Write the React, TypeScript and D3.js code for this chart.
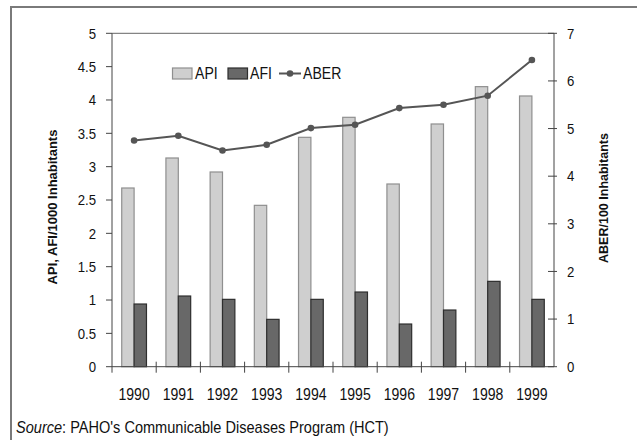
import React from "react";
import * as d3 from "d3";

const years = ["1990", "1991", "1992", "1993", "1994", "1995", "1996", "1997", "1998", "1999"];
const apiValues = [2.68, 3.13, 2.92, 2.42, 3.44, 3.74, 2.74, 3.64, 4.2, 4.06];
const afiValues = [0.94, 1.06, 1.01, 0.71, 1.01, 1.12, 0.64, 0.85, 1.28, 1.01];
const aberValues = [4.75, 4.85, 4.54, 4.66, 5.01, 5.08, 5.43, 5.5, 5.69, 6.44];
const leftTicks = [0, 0.5, 1, 1.5, 2, 2.5, 3, 3.5, 4, 4.5, 5];
const rightTicks = [0, 1, 2, 3, 4, 5, 6, 7];

const W = 637;
const H = 440;
const plot = { left: 112, right: 554, top: 33.3, bottom: 366.7 };
const sans = "'Liberation Sans', Arial, sans-serif";

export default function App() {
  const x = d3.scaleBand<string>().domain(years).range([plot.left, plot.right]);
  const yL = d3.scaleLinear().domain([0, 5]).range([plot.bottom, plot.top]);
  const yR = d3.scaleLinear().domain([0, 7]).range([plot.bottom, plot.top]);
  const barW = x.bandwidth() * 0.28;
  const center = (y: string) => (x(y) as number) + x.bandwidth() / 2;

  const line = d3
    .line<number>()
    .x((_, i) => center(years[i]))
    .y((d) => yR(d));

  // slightly condensed text, as in the original layout
  const cond = (px: number, py: number, sx = 0.88) => `translate(${px},${py}) scale(${sx},1)`;

  return (
    <svg
      width={W}
      height={H}
      style={{ position: "absolute", left: 0, top: 0, background: "#fff" }}
    >
      {/* outer frame */}
      <polyline points={`11,${H} 11,7 ${W},7`} fill="none" stroke="#7a7a7a" strokeWidth={2} />

      {/* plot border top */}
      <line x1={plot.left} x2={plot.right} y1={plot.top} y2={plot.top} stroke="#666" strokeWidth={1} />

      {/* bars */}
      {years.map((yr, i) => {
        const c = center(yr);
        return (
          <g key={yr}>
            <rect
              x={c - barW}
              y={yL(apiValues[i])}
              width={barW}
              height={plot.bottom - yL(apiValues[i])}
              fill="#cfcfcf"
              stroke="#8f8f8f"
              strokeWidth={1.2}
            />
            <rect
              x={c}
              y={yL(afiValues[i])}
              width={barW}
              height={plot.bottom - yL(afiValues[i])}
              fill="#686868"
              stroke="#2e2e2e"
              strokeWidth={1.2}
            />
          </g>
        );
      })}

      {/* ABER line */}
      <path d={line(aberValues) || ""} fill="none" stroke="#555" strokeWidth={2} />
      {aberValues.map((v, i) => (
        <circle key={i} cx={center(years[i])} cy={yR(v)} r={3.3} fill="#555" />
      ))}

      {/* left axis */}
      <line x1={plot.left} x2={plot.left} y1={plot.top} y2={plot.bottom + 6} stroke="#444" />
      {leftTicks.map((t) => (
        <g key={t}>
          <line x1={plot.left - 6} x2={plot.left} y1={yL(t)} y2={yL(t)} stroke="#444" />
          <text
            transform={cond(96, yL(t) + 5.3)}
            textAnchor="end"
            fontFamily={sans}
            fontSize={15}
            fill="#111"
          >
            {t}
          </text>
        </g>
      ))}

      {/* right axis */}
      <line x1={plot.right} x2={plot.right} y1={plot.top} y2={plot.bottom} stroke="#444" />
      {rightTicks.map((t) => (
        <g key={t}>
          <line x1={plot.right - 6} x2={plot.right + 3} y1={yR(t)} y2={yR(t)} stroke="#444" />
          <text transform={cond(567, yR(t) + 5.3)} fontFamily={sans} fontSize={15} fill="#111">
            {t}
          </text>
        </g>
      ))}

      {/* bottom axis */}
      <line x1={plot.left} x2={plot.right} y1={plot.bottom} y2={plot.bottom} stroke="#444" />
      {years.slice(1).map((yr) => (
        <line
          key={yr}
          x1={x(yr) as number}
          x2={x(yr) as number}
          y1={plot.bottom - 5}
          y2={plot.bottom + 6}
          stroke="#444"
        />
      ))}
      {years.map((yr) => (
        <text
          key={yr}
          transform={cond(center(yr), 400)}
          textAnchor="middle"
          fontFamily={sans}
          fontSize={16}
          fill="#111"
        >
          {yr}
        </text>
      ))}

      {/* axis titles */}
      <text
        transform={`translate(57,207) rotate(-90)`}
        textAnchor="middle"
        fontFamily={sans}
        fontWeight="bold"
        fontSize={13}
        fill="#111"
      >
        API, AFI/1000 Inhabitants
      </text>
      <text
        transform={`translate(608,198) rotate(-90)`}
        textAnchor="middle"
        fontFamily={sans}
        fontWeight="bold"
        fontSize={12.5}
        fill="#111"
      >
        ABER/100 Inhabitants
      </text>

      {/* legend */}
      <g fontFamily={sans} fontSize={16} fill="#111">
        <rect x={172.5} y={68} width={19.5} height={11} fill="#cfcfcf" stroke="#8f8f8f" strokeWidth={1.2} />
        <text transform={cond(195, 79)}>API</text>
        <rect x={228} y={68} width={19.5} height={11} fill="#686868" stroke="#2e2e2e" strokeWidth={1.2} />
        <text transform={cond(250, 79)}>AFI</text>
        <line x1={279} x2={301} y1={73.5} y2={73.5} stroke="#555" strokeWidth={2} />
        <circle cx={290} cy={73.5} r={3.3} fill="#555" />
        <text transform={cond(303, 79)}>ABER</text>
      </g>

      {/* source note */}
      <text transform={cond(16, 433, 0.91)} fontFamily={sans} fontSize={16} fill="#111">
        <tspan fontStyle="italic">Source</tspan>: PAHO's Communicable Diseases Program (HCT)
      </text>
    </svg>
  );
}
